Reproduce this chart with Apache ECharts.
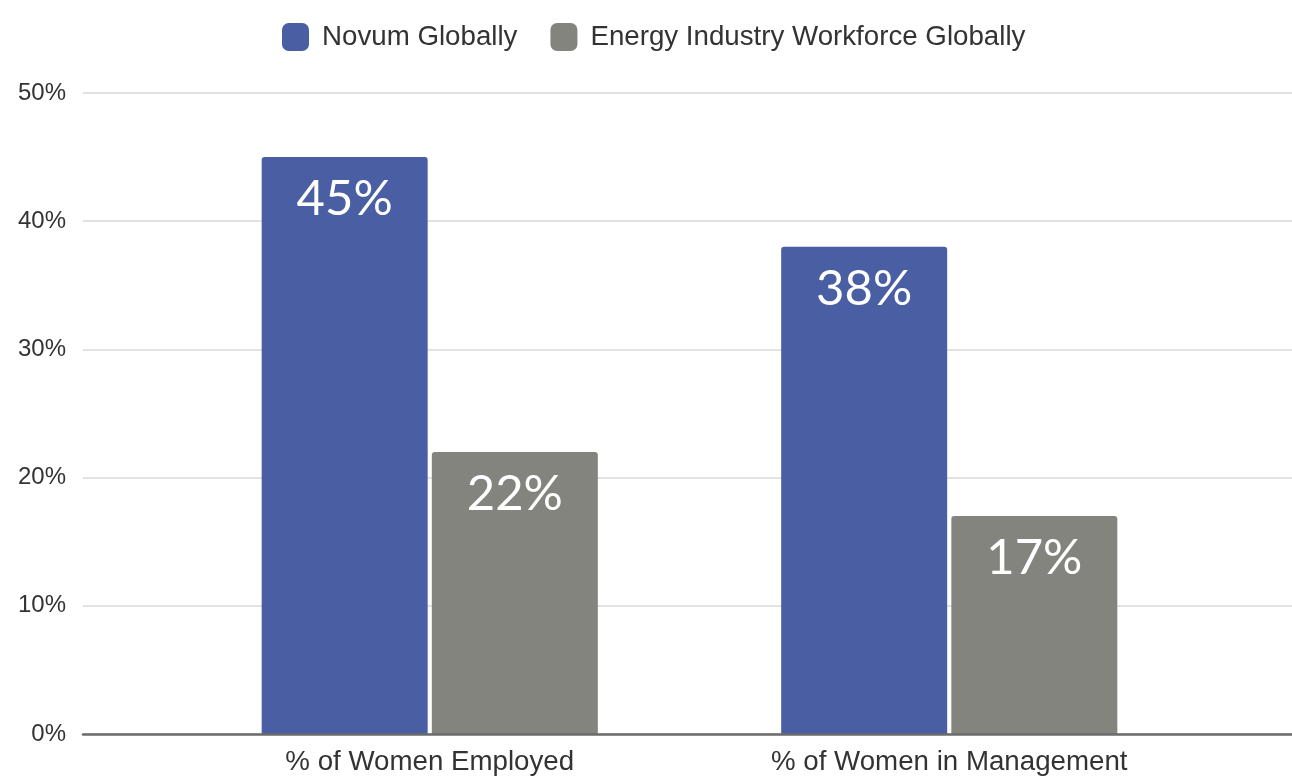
<!DOCTYPE html>
<html>
<head>
<meta charset="utf-8">
<script src="https://cdn.jsdelivr.net/npm/echarts@6/dist/echarts.min.js"></script>
<style>
html,body{margin:0;padding:0;background:#fff;}
#chart{width:1292px;height:777px;}
</style>
</head>
<body>
<div id="chart"></div>
<script>
const categories = ['% of Women Employed', '% of Women in Management'];
const seriesNames = ['Novum Globally', 'Energy Industry Workforce Globally'];
const novumValues = [45, 38];
const energyValues = [22, 17];
const yTicks = [0, 10, 20, 30, 40, 50];

const chart = echarts.init(document.getElementById('chart'));
const labelStyle = {
  show: true,
  position: 'insideTop',
  distance: 18,
  color: '#ffffff',
  fontSize: 49,
  fontFamily: 'Lato',
  formatter: p => p.value + '%'
};
chart.setOption({
  animation: false,
  backgroundColor: '#ffffff',
  legend: {
    top: 18,
    left: 277,
    itemWidth: 27,
    itemHeight: 28,
    itemGap: 33,
    icon: 'roundRect',
    textStyle: {fontSize: 27.7, color: '#333', fontFamily: 'Liberation Sans', padding: [0, 0, 0, 8]},
    data: seriesNames
  },
  grid: [
    {left: 83, right: 0, top: 93, bottom: 43},
    {left: 170, right: 83, top: 93, bottom: 43}
  ],
  xAxis: [
    {gridIndex: 0, type: 'category', data: [''], axisLine: {show: true, lineStyle: {color: '#6b6b6b', width: 2.5}}, axisTick: {show: false}, axisLabel: {show: false}, z: 10},
    {gridIndex: 1, type: 'category', data: categories, axisLine: {show: false}, axisTick: {show: false},
     axisLabel: {fontSize: 27.7, color: '#333', fontFamily: 'Liberation Sans', margin: 14}}
  ],
  yAxis: [
    {gridIndex: 0, type: 'value', min: yTicks[0], max: yTicks[yTicks.length - 1], interval: 10,
     axisLine: {show: false}, axisTick: {show: false},
     axisLabel: {fontSize: 24, color: '#333', fontFamily: 'Liberation Sans', margin: 17, formatter: v => v + '%'},
     splitLine: {lineStyle: {color: '#d9d9d9', width: 1.5}}},
    {gridIndex: 1, type: 'value', min: 0, max: 50, interval: 10, show: false, splitLine: {show: false}}
  ],
  series: [
    {name: seriesNames[0], type: 'bar', xAxisIndex: 1, yAxisIndex: 1, data: novumValues,
     barWidth: 166, barGap: '2.5%', itemStyle: {color: '#4a5ea3', borderRadius: [3, 3, 0, 0]}, label: labelStyle},
    {name: seriesNames[1], type: 'bar', xAxisIndex: 1, yAxisIndex: 1, data: energyValues,
     barWidth: 166, barGap: '2.5%', itemStyle: {color: '#84847e', borderRadius: [3, 3, 0, 0]}, label: labelStyle}
  ]
});
</script>
</body>
</html>
